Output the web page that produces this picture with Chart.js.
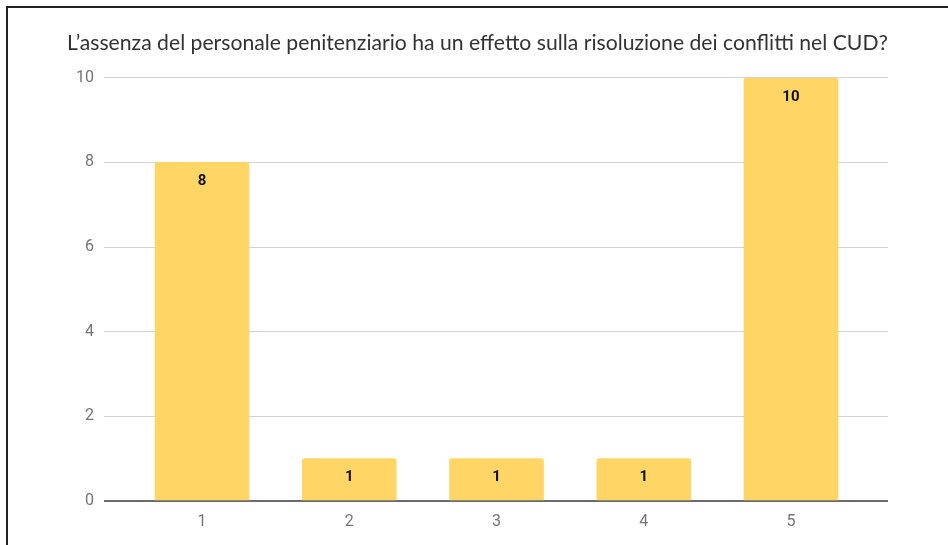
<!DOCTYPE html>
<html>
<head>
<meta charset="utf-8">
<script src="https://cdn.jsdelivr.net/npm/chart.js@4"></script>
<style>
	html, body { margin: 0; padding: 0; background: #fff; }
	#wrap { position: relative; width: 948px; height: 545px; overflow: hidden; }
	#frame { position: absolute; left: 6px; top: 6px; right: -4px; bottom: -4px; border-left: 2px solid #222; border-top: 2px solid #222; pointer-events: none; }
	canvas { position: absolute; left: 0; top: 0; }
</style>
</head>
<body>
<div id="wrap">
	<canvas id="graph" width="948" height="545"></canvas>
	<div id="frame"></div>
</div>
<script>
// dati
var categories = ["1", "2", "3", "4", "5"];
var positions = [1, 2, 3, 4, 5];
var values = [8, 1, 1, 1, 10];
var yTicks = [0, 2, 4, 6, 8, 10];
var titleText = "L\u2019assenza del personale penitenziario ha un effetto sulla risoluzione dei conflitti nel CUD?";

var barColor = '#FFD666';

// etichette dei valori dentro le barre
var valueLabels = {
	id: 'valueLabels',
	afterDatasetsDraw: function(chart) {
		var ctx = chart.ctx;
		var meta = chart.getDatasetMeta(0);
		ctx.save();
		ctx.font = "bold 15px Roboto, sans-serif";
		ctx.fillStyle = '#111';
		ctx.textAlign = 'center';
		ctx.textBaseline = 'middle';
		meta.data.forEach(function(bar, i) {
			ctx.fillText(String(values[i]), bar.x, bar.y + 19);
		});
		ctx.restore();
	}
};

var ctx = document.getElementById('graph').getContext('2d');
var myChart = new Chart(ctx, {
	type: 'bar',
	data: {
		datasets: [{
			data: positions.map(function(p, i) { return { x: p, y: values[i] }; }),
			backgroundColor: barColor,
			borderWidth: 0,
			borderRadius: { topLeft: 3, topRight: 3, bottomLeft: 0, bottomRight: 0 },
			borderSkipped: 'start',
			barThickness: 94
		}]
	},
	options: {
		animation: false,
		responsive: false,
		maintainAspectRatio: false,
		layout: { padding: { left: 67, right: 60, top: 0, bottom: 0 } },
		scales: {
			x: {
				type: 'linear',
				min: 0.334,
				max: 5.659,
				offset: false,
				afterFit: function(scale) { scale.height = 44; },
				afterBuildTicks: function(axis) {
					axis.ticks = positions.map(function(p) { return { value: p }; });
				},
				grid: { display: false, drawTicks: false },
				border: { display: false },
				ticks: {
					padding: 11,
					color: '#757575',
					font: { size: 16, family: "Roboto, sans-serif" },
					callback: function(value) {
						var i = positions.indexOf(value);
						return i >= 0 ? categories[i] : '';
					}
				}
			},
			y: {
				min: 0,
				max: 10,
				afterFit: function(scale) { scale.width = 37; },
				afterBuildTicks: function(axis) {
					axis.ticks = yTicks.map(function(v) { return { value: v }; });
				},
				border: { display: false },
				grid: {
					drawTicks: false,
					color: function(c) { return c.tick.value === 0 ? '#6b6b6b' : '#d3d3d3'; },
					lineWidth: function(c) { return c.tick.value === 0 ? 2 : 1; }
				},
				ticks: {
					padding: 10,
					color: '#757575',
					font: { size: 16, family: "Roboto, sans-serif" }
				}
			}
		},
		plugins: {
			legend: { display: false },
			tooltip: { enabled: false },
			title: {
				display: true,
				text: titleText,
				color: '#333',
				font: { size: 21.5, family: "Lato, sans-serif", weight: 'normal' },
				padding: { top: 30, bottom: 22 }
			}
		}
	},
	plugins: [valueLabels]
});
</script>
</body>
</html>
